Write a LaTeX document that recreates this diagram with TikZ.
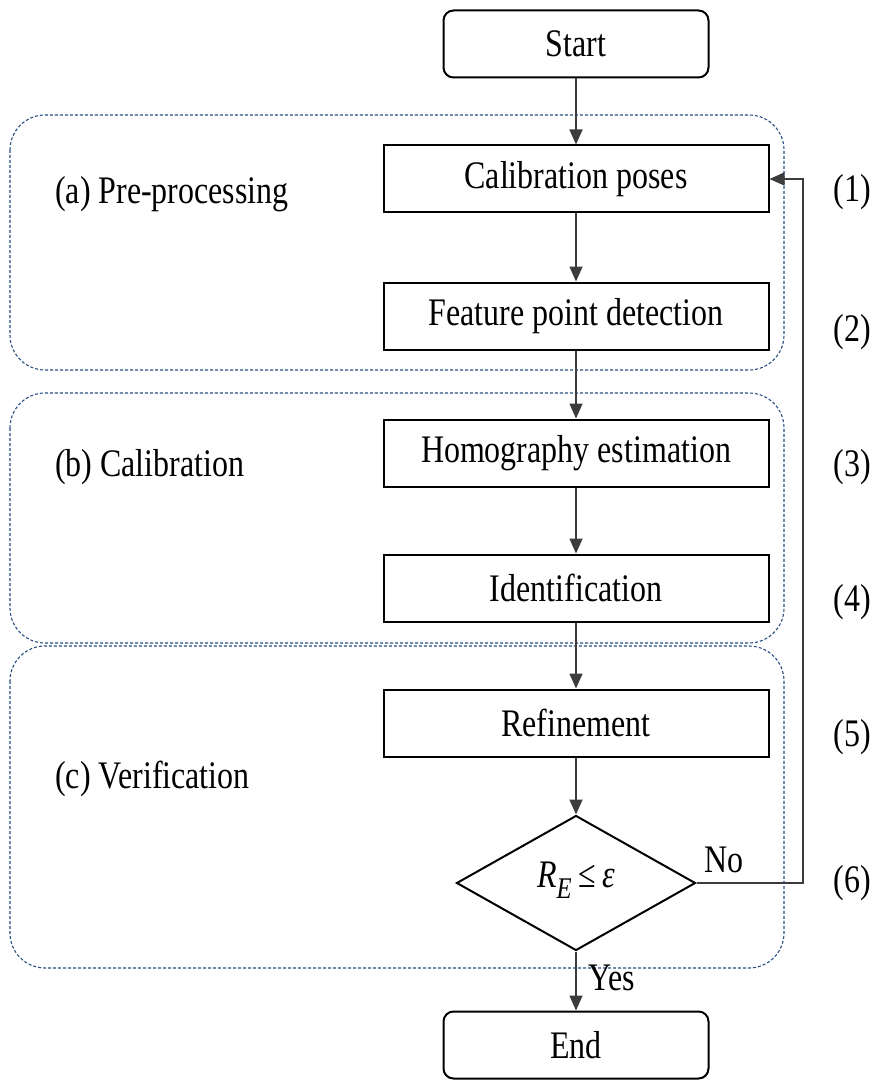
\documentclass[tikz,border=0pt]{standalone}
\usepackage{fontspec}
\setmainfont{Liberation Serif}[FakeStretch=0.82]
\usetikzlibrary{shapes.geometric,arrows.meta}
\definecolor{grpblue}{RGB}{40,78,130}
\definecolor{conngray}{RGB}{60,60,60}
\begin{document}
\begin{tikzpicture}[x=1pt,y=-1pt,
  font=\fontsize{39}{44}\selectfont,
  stepbox/.style={draw=black, line width=2pt, minimum width=385pt, minimum height=67pt, inner sep=0pt},
  termbox/.style={draw=black, line width=2pt, rounded corners=10pt, minimum width=265pt, minimum height=67pt, inner sep=0pt},
  decbox/.style={draw=black, diamond, line width=2pt, minimum width=239pt, minimum height=135pt, inner sep=0pt, aspect=1.77},
  grp/.style={draw=grpblue, line width=1.1pt, dash pattern=on 3pt off 2pt, rounded corners=35pt},
  conn/.style={draw=conngray, line width=1.6pt},
  arr/.style={conn, -{Triangle[length=15pt,width=13pt]}},
  lbl/.style={anchor=west, inner sep=0pt},
  num/.style={inner sep=0pt}
]
\useasboundingbox (0,0) rectangle (874,1083);
% groups
\draw[grp] (10,115) rectangle (784,370);
\draw[grp] (10,393) rectangle (784,643);
\draw[grp] (10,646) rectangle (784,968);
\node[lbl] (la) at (55,194) {(a) Pre-processing};
\node[lbl] (lb) at (55,467) {(b) Calibration};
\node[lbl] (lc) at (55,779) {(c) Verification};
% nodes
\node[termbox] (start) at (576,44) {Start};
\node[stepbox] (cal) at (576,179) {Calibration poses};
\node[stepbox] (feat) at (576,316) {Feature point detection};
\node[stepbox] (hom) at (576,453) {Homography estimation};
\node[stepbox] (idf) at (576,588) {Identification};
\node[stepbox] (ref) at (576,723) {Refinement};
\node[decbox] (dec) at (576,883) {};
\node (dectext) at (576,880) {\textit{R}\raisebox{-0.6ex}{\fontsize{30}{32}\selectfont\textit{E}}\,≤\,\textit{ε}};
\node[termbox] (end) at (576,1045) {End};
% numbers
\node[num] (n1) at (852,192) {(1)};
\node[num] (n2) at (852,332) {(2)};
\node[num] (n3) at (852,467) {(3)};
\node[num] (n4) at (852,602) {(4)};
\node[num] (n5) at (852,737) {(5)};
\node[num] (n6) at (852,883) {(6)};
% connectors
\draw[arr] (start) -- (cal);
\draw[arr] (cal) -- (feat);
\draw[arr] (feat) -- (hom);
\draw[arr] (hom) -- (idf);
\draw[arr] (idf) -- (ref);
\draw[arr] (ref) -- (dec);
\draw[arr] (dec) -- node[pos=0.45, right, inner sep=12pt] (yes) {Yes} (end);
\coordinate (lpb) at (803,883);
\coordinate (lpt) at (803,179);
\draw[arr] (dec.east) -- (lpb) -- (lpt) -- (cal.east);
\node (no) at (724,860) {No};
\end{tikzpicture}
\end{document}
